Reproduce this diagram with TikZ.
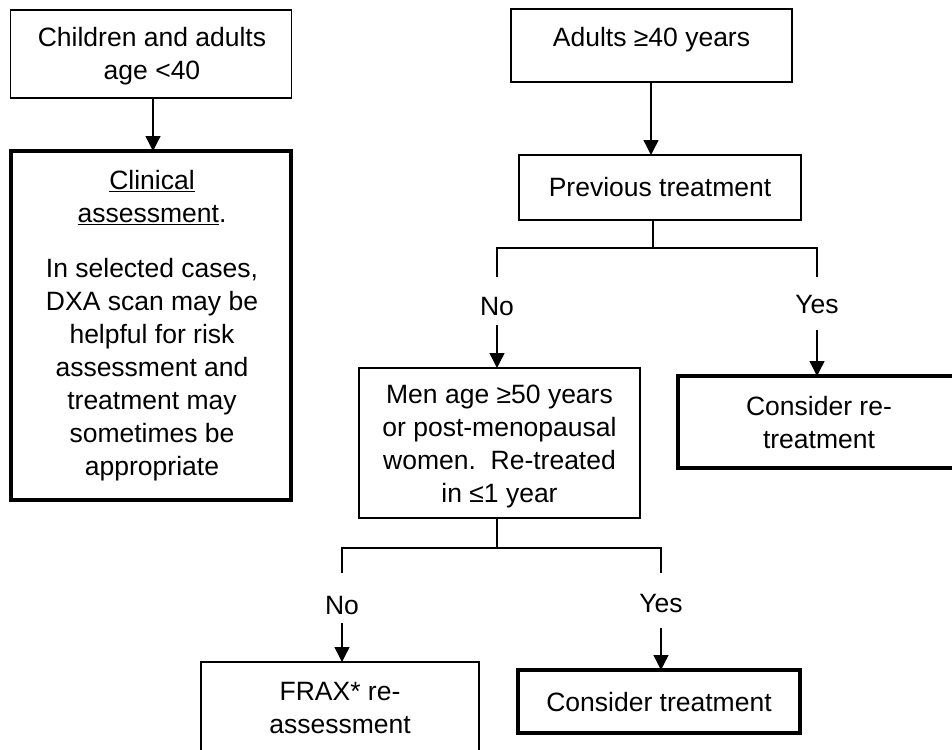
\documentclass[tikz,border=0pt]{standalone}
\usepackage{fontspec}
\setmainfont{Liberation Sans}
\usetikzlibrary{arrows.meta}
\tikzset{
  thinbox/.style={draw=black, line width=1.4pt, inner sep=0pt, outer sep=0pt},
  thickbox/.style={draw=black, line width=4.2pt, inner sep=0pt, outer sep=0pt},
  txt/.style={align=center, inner sep=0pt, font=\fontsize{26.5}{33}\selectfont},
  conn/.style={line width=1.4pt},
  arr/.style={line width=1.4pt, -{Triangle[length=15pt,width=15pt]}}
}
\begin{document}
\begin{tikzpicture}[x=1pt,y=-1pt]
\useasboundingbox (0,0) rectangle (952,749);
\clip (0,0) rectangle (952,749);
% left column
\node[thinbox, minimum width=281pt, minimum height=88pt] (child) at (151,54) {};
\node[txt] (childT) at (152,56) {Children and adults\\age <40};
\node[thickbox, minimum width=280pt, minimum height=349pt] (clin) at (151,325.5) {};
\node[txt] (clinT) at (152,326) {\underline{Clinical}\\\underline{assessment}.\\[22pt]In selected cases,\\DXA scan may be\\helpful for risk\\assessment and\\treatment may\\sometimes be\\appropriate};
\draw[arr] (child.south -| 153,0) -- (clin.north -| 153,0);
% right column
\node[thinbox, minimum width=281pt, minimum height=73pt] (adult) at (651.5,45.5) {};
\node[txt] (adultT) at (651.5,40) {Adults ≥40 years};
\node[thinbox, minimum width=282pt, minimum height=65pt] (prev) at (660,187.5) {};
\node[txt] (prevT) at (660,187) {Previous treatment};
\draw[arr] (adult.south -| 651,0) -- (prev.north -| 651,0);
\coordinate (b1) at (653,248);
\coordinate (b1L) at (497,248);
\coordinate (b1R) at (817,248);
\coordinate (s1L) at (497,277);
\coordinate (s1R) at (817,277);
\draw[conn] (prev.south -| b1) -- (b1);
\draw[conn] (s1L) -- (b1L) -- (b1R) -- (s1R);
\node[txt] (no1) at (497,307) {No};
\node[txt] (yes1) at (817,305) {Yes};
\node[thinbox, minimum width=281pt, minimum height=150pt] (men) at (499.5,443) {};
\node[txt] (menT) at (499.5,446) {Men age ≥50 years\\or post-menopausal\\women.\ \ Re-treated\\in ≤1 year};
\node[thickbox, minimum width=282pt, minimum height=92pt] (retr) at (819,422) {};
\node[txt] (retrT) at (819,423) {Consider re-\\treatment};
\draw[arr] (no1.south |- 0,325) -- (men.north -| no1);
\draw[arr] (yes1.south |- 0,330) -- (retr.north -| yes1);
\coordinate (b2) at (497,548);
\coordinate (b2L) at (342,548);
\coordinate (b2R) at (661,548);
\coordinate (s2L) at (342,573);
\coordinate (s2R) at (661,573);
\draw[conn] (men.south -| b2) -- (b2);
\draw[conn] (s2L) -- (b2L) -- (b2R) -- (s2R);
\node[txt] (no2) at (342,606) {No};
\node[txt] (yes2) at (661,604) {Yes};
\node[thinbox, minimum width=278pt, minimum height=120pt] (frax) at (340,722) {};
\node[txt] (fraxT) at (340,708) {FRAX* re-\\assessment};
\node[thickbox, minimum width=282pt, minimum height=63pt] (treat) at (659,701.5) {};
\node[txt] (treatT) at (659,702) {Consider treatment};
\draw[arr] (no2.south |- 0,623) -- (frax.north -| no2);
\draw[arr] (yes2.south |- 0,628) -- (treat.north -| yes2);
\end{tikzpicture}
\end{document}
